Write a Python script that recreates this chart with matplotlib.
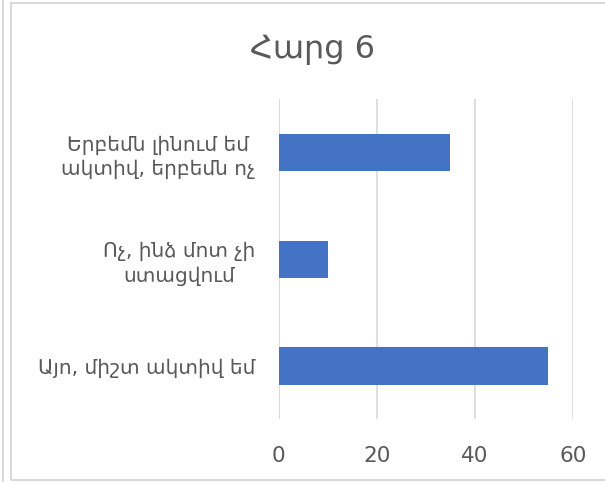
import matplotlib
matplotlib.use("Agg")
import matplotlib.pyplot as plt
from matplotlib.lines import Line2D
from matplotlib.patches import Rectangle

plt.rcParams['font.family'] = ['DejaVu Sans']

# data (bottom to top, as drawn)
categories = ["Այո, միշտ ակտիվ եմ",
              "Ոչ, ինձ մոտ չի\nստացվում",
              "Երբեմն լինում եմ\nակտիվ, երբեմն ոչ"]
values = [55, 10, 35]
xticks = [0, 20, 40, 60]
title = "Հարց 6"

text_col = "#595959"
bar_col = "#4472C4"
grid_col = "#D9D9D9"

fig = plt.figure(figsize=(6.05, 4.82), dpi=100)
ax = fig.add_axes([0.461, 0.1297, 0.486, 0.664])

ax.barh(range(len(categories)), values, height=0.35, color=bar_col, zorder=3)

ax.set_xlim(0, 60)
ax.set_ylim(-0.5, len(categories) - 0.5)
ax.set_xticks(xticks)
ax.set_yticks(range(len(categories)))
ax.set_yticklabels(categories, ha="right", multialignment="center",
                   linespacing=1.3)
ax.tick_params(axis="y", length=0, labelsize=14.5, colors=text_col, pad=17)
ax.tick_params(axis="x", length=0, labelsize=15.5, colors=text_col, pad=19)
for s in ax.spines.values():
    s.set_visible(False)
ax.grid(axis="x", color=grid_col, linewidth=1.2, zorder=0)
ax.axvline(0, color=grid_col, linewidth=1.2, zorder=1)

fig.text(0.517, 0.897, title, ha="center", va="center", fontsize=23,
         color=text_col)

# chart frame
fig.add_artist(Line2D([3/605, 3/605], [0, 1], color=grid_col, lw=1.5))
fig.add_artist(Rectangle((11/605, 2/482), 620/605, 477/482, fill=False,
                         edgecolor=grid_col, lw=1.5, clip_on=False))

fig.savefig("out.png", dpi=100)
